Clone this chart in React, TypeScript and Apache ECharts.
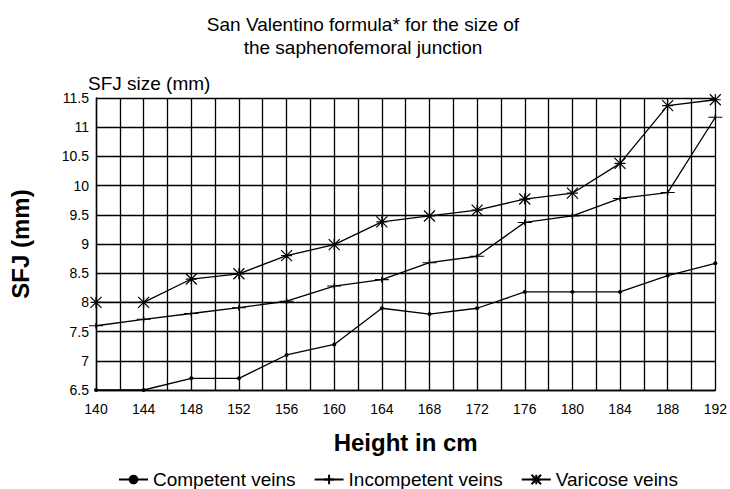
import React, { useEffect, useRef } from "react";
import * as echarts from "echarts";

const heights = [140, 144, 148, 152, 156, 160, 164, 168, 172, 176, 180, 184, 188, 192];
const competent = [6.5, 6.5, 6.7, 6.7, 7.1, 7.28, 7.9, 7.8, 7.9, 8.18, 8.18, 8.18, 8.46, 8.67];
const incompetent = [7.6, 7.71, 7.81, 7.91, 8.02, 8.28, 8.39, 8.68, 8.79, 9.37, 9.48, 9.78, 9.88, 11.17];
const varicose = [8.0, 8.0, 8.4, 8.49, 8.8, 8.99, 9.38, 9.48, 9.58, 9.77, 9.87, 10.38, 11.37, 11.47];

const FONT = "Liberation Sans, Arial, sans-serif";

export default function App() {
  const ref = useRef<HTMLDivElement>(null);
  useEffect(() => {
    const chart = echarts.init(ref.current!, null, { renderer: "svg" });
    const mk = (arr: number[]) => heights.map((h, i) => [h, arr[i]]);
    const lineStyle = { color: "#000", width: 1.3 };
    chart.setOption({
      animation: false,
      textStyle: { fontFamily: FONT, color: "#000" },
      title: [
        {
          text: "San Valentino formula* for the size of\nthe saphenofemoral junction",
          left: 358,
          textAlign: "center",
          top: 8,
          textStyle: { fontFamily: FONT, fontSize: 19, fontWeight: "normal", color: "#000", lineHeight: 23 },
        },
        {
          text: "SFJ size (mm)",
          left: 88,
          top: 74,
          padding: 0,
          textStyle: { fontFamily: FONT, fontSize: 19, fontWeight: "normal", color: "#000" },
        },
      ],
      grid: { left: 92, right: 12, top: 98, bottom: 99 },
      legend: {
        top: 470,
        left: 118,
        padding: 0,
        itemWidth: 29,
        itemHeight: 12,
        itemGap: 18,
        textStyle: { fontFamily: FONT, fontSize: 19, color: "#000" },
        data: ["Competent veins", "Incompetent veins", "Varicose veins"],
      },
      xAxis: {
        type: "value",
        min: 140,
        max: 192,
        interval: 2,
        name: "Height in cm",
        nameLocation: "middle",
        nameGap: 40,
        nameTextStyle: { fontFamily: FONT, fontSize: 24, fontWeight: "bold", color: "#000" },
        axisLine: { lineStyle: { color: "#000", width: 1.4 } },
        axisTick: { show: false },
        axisLabel: {
          fontFamily: FONT,
          fontSize: 14,
          color: "#000",
          margin: 12,
          formatter: (v: number) => (v % 4 === 0 ? String(v) : ""),
        },
        splitLine: { show: true, lineStyle: { color: "#000", width: 1.3 } },
      },
      yAxis: {
        type: "value",
        min: 6.5,
        max: 11.5,
        interval: 0.5,
        name: "SFJ (mm)",
        nameLocation: "middle",
        nameGap: 64,
        nameRotate: 90,
        nameTextStyle: { fontFamily: FONT, fontSize: 24, fontWeight: "bold", color: "#000" },
        axisLine: { show: true, lineStyle: { color: "#000", width: 1.4 } },
        axisTick: { show: false },
        axisLabel: { fontFamily: FONT, fontSize: 14, color: "#000", margin: 7 },
        splitLine: { show: true, lineStyle: { color: "#000", width: 1.3 } },
      },
      series: [
        {
          name: "Competent veins",
          type: "line",
          data: mk(competent),
          symbol: "circle",
          symbolSize: 4,
          itemStyle: { color: "#000" },
          lineStyle,
        },
        {
          name: "Incompetent veins",
          type: "line",
          data: mk(incompetent),
          symbol: "path://M0,5 L14,5 M7,1 L7,9",
          symbolSize: [14, 10],
          symbolKeepAspect: true,
          itemStyle: { color: "#000", borderColor: "#000", borderWidth: 1.2 },
          lineStyle,
        },
        {
          name: "Varicose veins",
          type: "line",
          data: mk(varicose),
          symbol: "path://M0,0 L10,10 M10,0 L0,10 M5,0 L5,10 M0,5 L10,5",
          symbolSize: 11,
          itemStyle: { color: "#000", borderColor: "#000", borderWidth: 1.2 },
          lineStyle,
        },
      ],
    });
    return () => chart.dispose();
  }, []);
  return <div ref={ref} style={{ width: 730, height: 489, position: "absolute", left: 0, top: 0 }} />;
}
